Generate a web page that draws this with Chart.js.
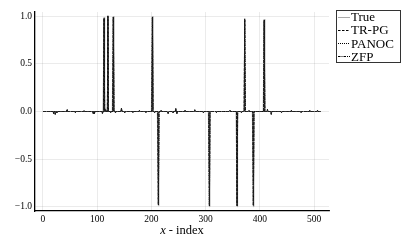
<!DOCTYPE html>
<html>
<head>
<meta charset="utf-8">
<script src="https://cdn.jsdelivr.net/npm/chart.js@4"></script>
<style>
  html, body { margin: 0; padding: 0; background: #fff; }
  canvas { display: block; }
</style>
</head>
<body>
<canvas id="sparseChart" width="407" height="246"></canvas>
<script>
// signal length (x - index runs 1..N)
const N = 512

// spikes of the true signal
const spikeIdx = [113, 120, 130, 202, 213, 307, 358, 372, 388, 408]
const trueVals = [0.99, 1.01, 1.0, 1.0, -0.99, -1.0, -1.0, 0.98, -1.0, 0.97]
const trpgVals = [0.98, 1.0, 0.99, 0.99, -0.98, -0.99, -0.99, 0.97, -0.99, 0.96]
const panocVals = [0.98, 1.0, 0.99, 0.99, -0.98, -0.99, -0.99, 0.97, -0.99, 0.96]
const zfpVals = [0.97, 0.99, 0.99, 0.98, -0.97, -0.99, -0.98, 0.96, -0.98, 0.95]

// small recovery errors around zero
const noiseIdx = [20, 23, 26, 45, 60, 76, 93, 95, 110, 116, 125, 134, 145, 151, 166, 178, 190, 206, 218, 231, 240, 245, 247, 262, 280, 296, 320, 345, 366, 380, 414, 421, 440, 458, 476, 492, 506]
const trpgNoise = [-0.02, -0.03, -0.015, 0.02, -0.01, 0.01, -0.02, -0.03, -0.02, 0.02, -0.015, -0.01, 0.035, -0.01, -0.01, 0.01, -0.01, -0.01, 0.01, -0.02, -0.015, 0.03, -0.025, 0.01, 0.015, -0.01, -0.01, 0.01, -0.01, 0.01, 0.02, -0.03, -0.01, 0.01, -0.01, 0.01, 0.015]
const panocNoise = [-0.02, -0.025, -0.01, 0.02, -0.01, 0.01, -0.02, -0.025, -0.02, 0.02, -0.01, -0.01, 0.03, -0.01, -0.01, 0.01, -0.01, -0.015, 0.01, -0.02, -0.01, 0.03, -0.02, 0.01, 0.015, -0.01, -0.01, 0.01, -0.01, 0.01, 0.02, -0.025, -0.01, 0.01, -0.01, 0.01, 0.01]
const zfpNoise = [-0.025, -0.03, -0.015, 0.025, -0.015, 0.01, -0.025, -0.03, -0.025, 0.025, -0.015, -0.015, 0.035, -0.015, -0.01, 0.015, -0.01, -0.015, 0.015, -0.025, -0.015, 0.035, -0.025, 0.015, 0.02, -0.015, -0.01, 0.015, -0.015, 0.01, 0.025, -0.03, -0.015, 0.015, -0.01, 0.015, 0.015]

const xTicks = [0, 100, 200, 300, 400, 500]
const yTicks = [-1.0, -0.5, 0.0, 0.5, 1.0]

const buildSeries = (vals, nIdx, nVals) => {
    const y = new Array(N).fill(0)
    if (nIdx) nIdx.forEach((k, i) => { y[k - 1] = nVals[i] })
    spikeIdx.forEach((k, i) => { y[k - 1] = vals[i] })
    return y.map((v, i) => ({ x: i + 1, y: v }))
}

const serif = "'Liberation Serif', 'DejaVu Serif', serif"

const legendItems = [
    { label: 'True', color: '#aaaaaa', dash: [] },
    { label: 'TR-PG', color: '#000', dash: [2.5, 1.5] },
    { label: 'PANOC', color: '#000', dash: [1, 1] },
    { label: 'ZFP', color: '#000', dash: [2.5, 1, 1, 1] }
]

// boxed legend at the top right, like the original
const boxLegend = {
    id: 'boxLegend',
    afterDraw(chart) {
        const ctx = chart.ctx
        ctx.save()
        ctx.fillStyle = '#fff'
        ctx.fillRect(336.5, 10.5, 64, 52)
        ctx.strokeStyle = '#333'
        ctx.lineWidth = 1
        ctx.strokeRect(336.5, 10.5, 64, 52)
        ctx.font = '13px ' + serif
        ctx.textBaseline = 'middle'
        legendItems.forEach((it, i) => {
            const y = 16.5 + i * 13.3
            ctx.beginPath()
            ctx.setLineDash(it.dash)
            ctx.strokeStyle = it.color
            ctx.moveTo(338, Math.round(y) + 0.5)
            ctx.lineTo(350, Math.round(y) + 0.5)
            ctx.stroke()
            ctx.fillStyle = '#000'
            ctx.fillText(it.label, 351, y + 1)
        })
        ctx.restore()
    }
}

// x axis title with italic x
const axisTitle = {
    id: 'axisTitle',
    afterDraw(chart) {
        const ctx = chart.ctx
        const area = chart.chartArea
        const cx = (area.left + area.right) / 2
        ctx.save()
        ctx.fillStyle = '#000'
        ctx.textBaseline = 'middle'
        const a = 'x'
        const b = ' - index'
        ctx.font = 'italic 12.5px ' + serif
        const wa = ctx.measureText(a).width
        ctx.font = '12.5px ' + serif
        const wb = ctx.measureText(b).width
        const x0 = cx - (wa + wb) / 2
        ctx.font = 'italic 12.5px ' + serif
        ctx.fillText(a, x0, 231)
        ctx.font = '12.5px ' + serif
        ctx.fillText(b, x0 + wa, 231)
        ctx.restore()
    }
}

const fmtY = v => (v < 0 ? '\u2212' : '') + Math.abs(v).toFixed(1)

new Chart('sparseChart', {
    type: 'line',
    data: {
        datasets: [
            { label: 'True', data: buildSeries(trueVals), borderColor: '#aaaaaa', borderWidth: 1, order: 4 },
            { label: 'TR-PG', data: buildSeries(trpgVals, noiseIdx, trpgNoise), borderColor: '#000', borderWidth: 1, borderDash: [2.5, 1.5], order: 3 },
            { label: 'PANOC', data: buildSeries(panocVals, noiseIdx, panocNoise), borderColor: '#000', borderWidth: 1, borderDash: [1, 1], order: 2 },
            { label: 'ZFP', data: buildSeries(zfpVals, noiseIdx, zfpNoise), borderColor: '#222', borderWidth: 1, borderDash: [2.5, 1, 1, 1], order: 1 }
        ]
    },
    options: {
        responsive: false,
        animation: false,
        parsing: false,
        elements: { point: { radius: 0 }, line: { tension: 0 } },
        layout: { padding: { top: 12, right: 78, left: 0, bottom: 0 } },
        plugins: { legend: { display: false }, tooltip: { enabled: false } },
        scales: {
            x: {
                type: 'linear',
                min: -14.33,
                max: 527.33,
                afterBuildTicks: scale => { scale.ticks = xTicks.map(v => ({ value: v })) },
                afterFit: scale => { scale.height = 35 },
                grid: { color: 'rgba(0,0,0,0.1)', lineWidth: 0.8, drawTicks: false },
                border: { color: '#000', width: 1.3 },
                ticks: { color: '#000', padding: 3, maxRotation: 0, font: { family: serif, size: 9.5 } }
            },
            y: {
                min: -1.045,
                max: 1.045,
                afterBuildTicks: scale => { scale.ticks = yTicks.map(v => ({ value: v })) },
                afterFit: scale => { scale.width = 35 },
                grid: { color: 'rgba(0,0,0,0.1)', lineWidth: 0.8, drawTicks: false },
                border: { color: '#000', width: 1.3 },
                ticks: { color: '#000', padding: 3, callback: v => fmtY(v), font: { family: serif, size: 9.5 } }
            }
        }
    },
    plugins: [boxLegend, axisTitle]
})
</script>
</body>
</html>
